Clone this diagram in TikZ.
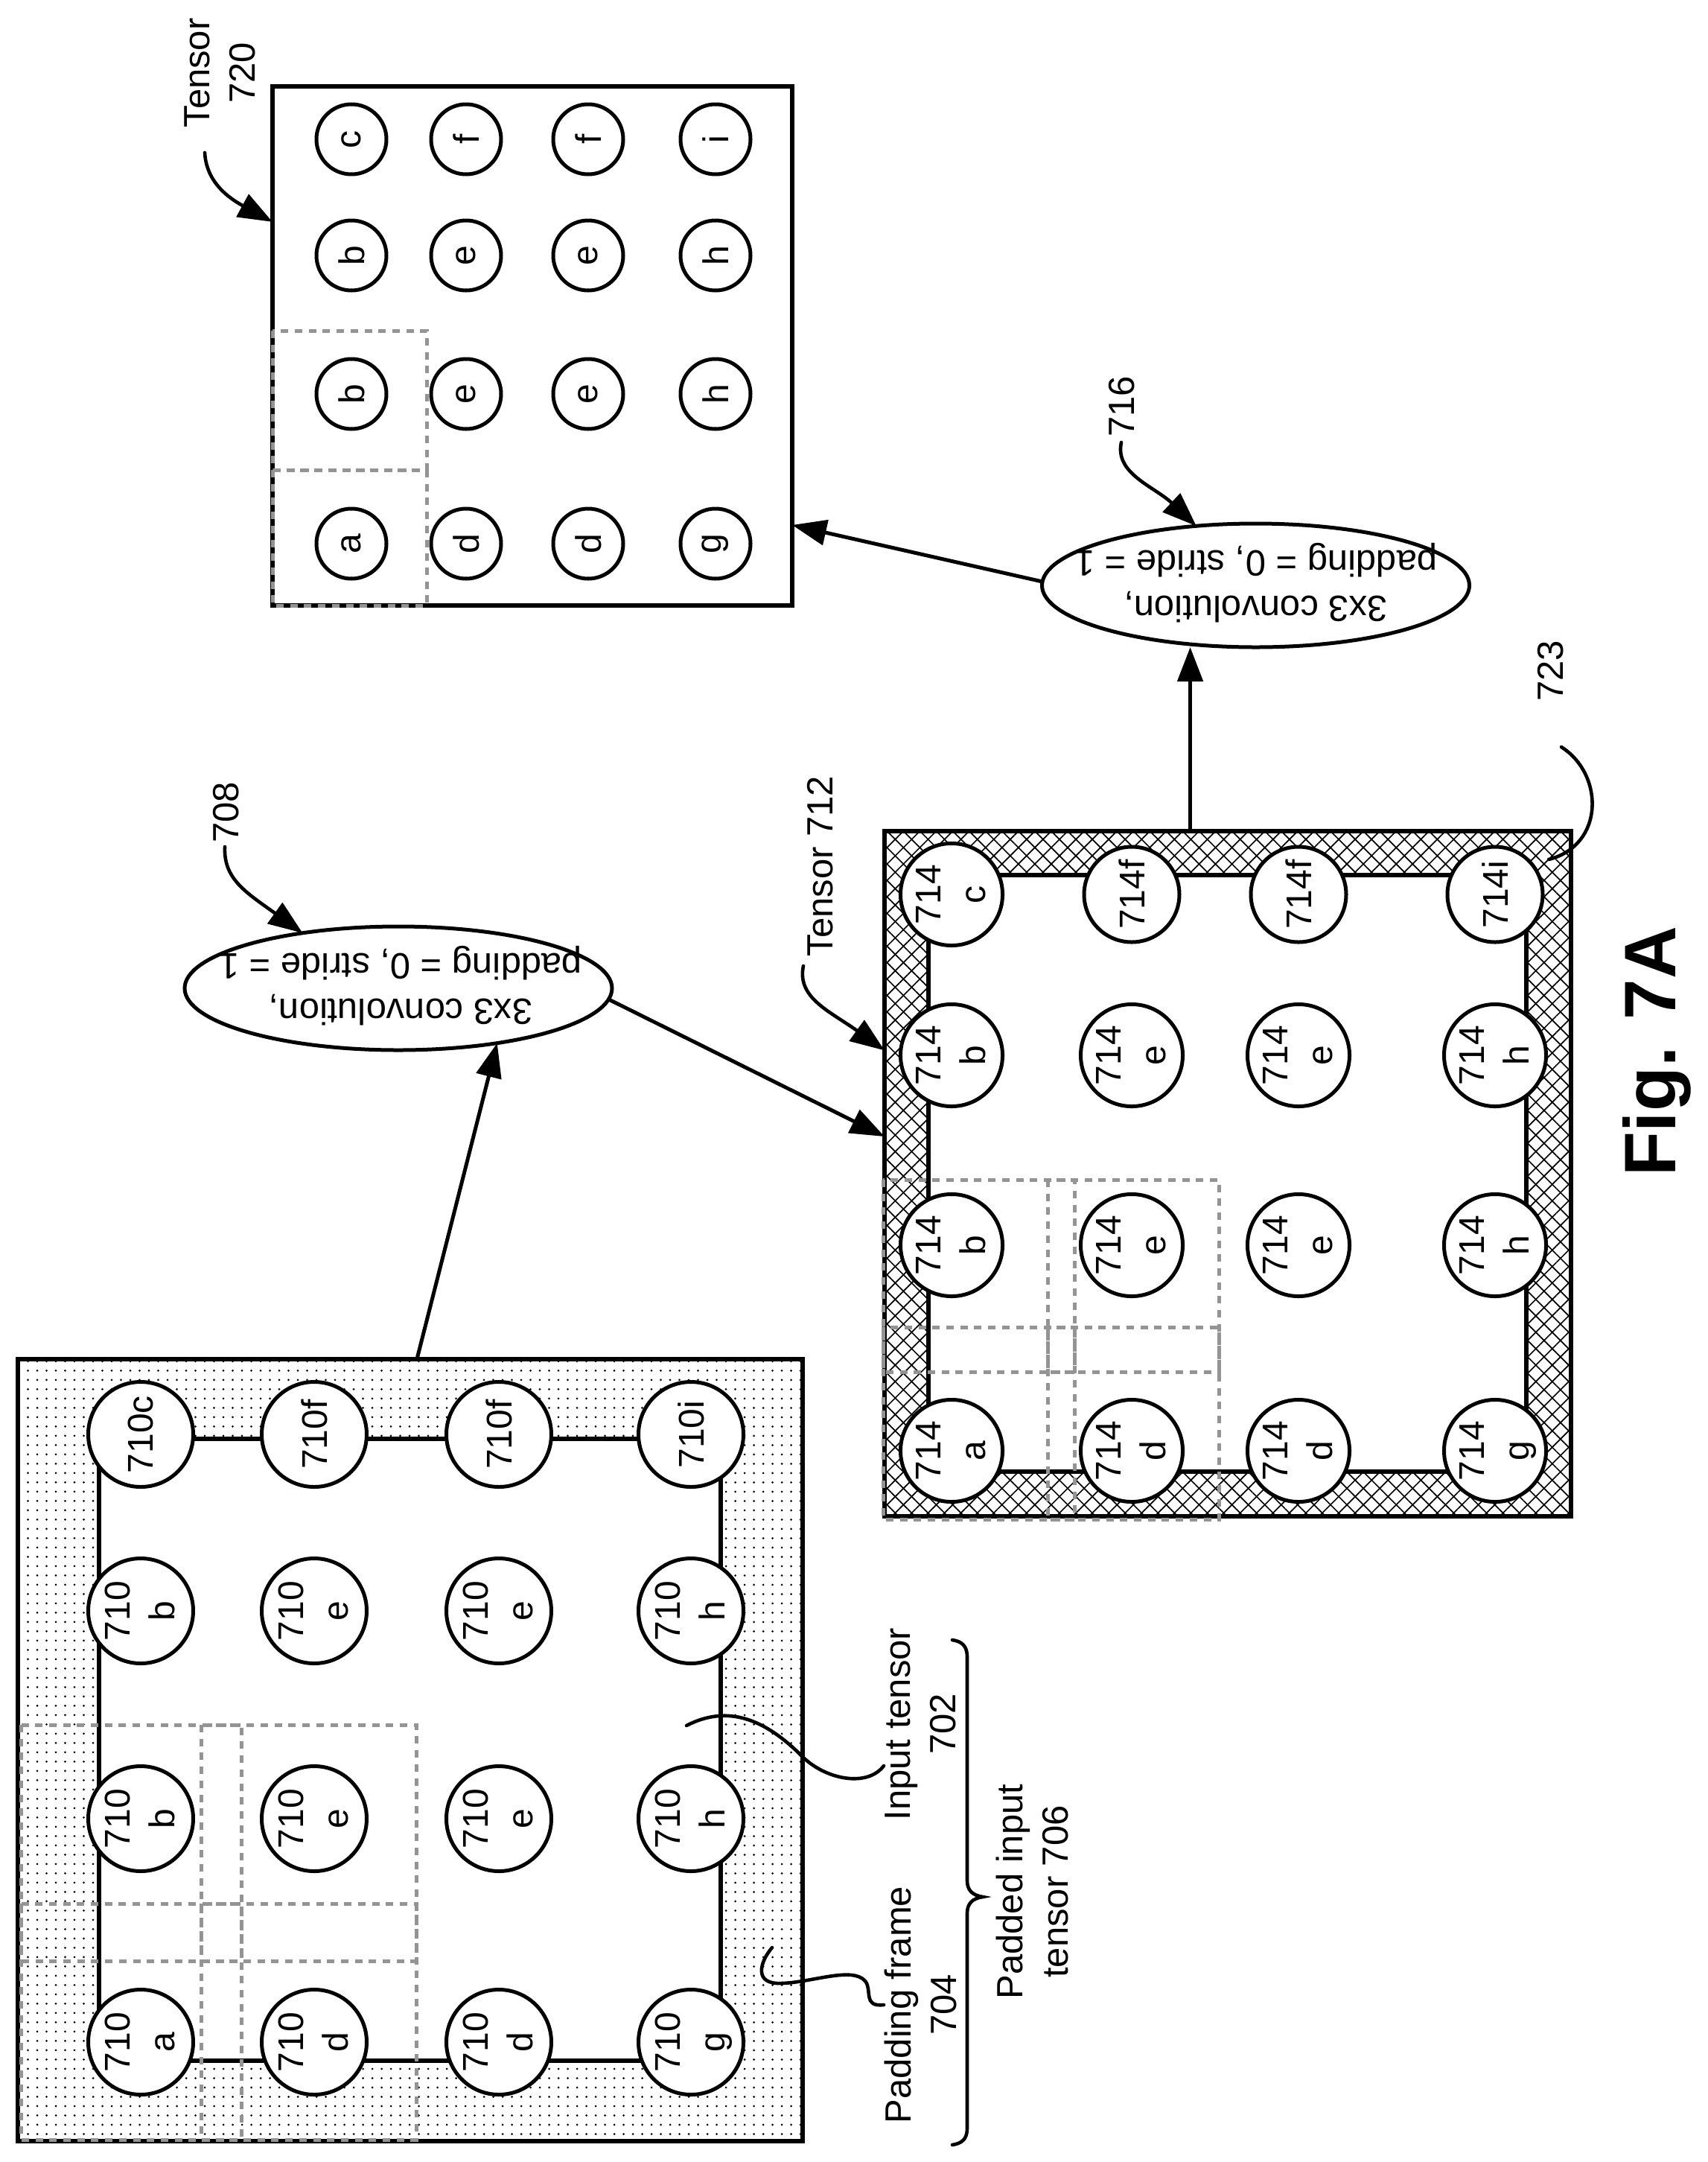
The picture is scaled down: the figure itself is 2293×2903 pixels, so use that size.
\documentclass[tikz,border=0pt]{standalone}
\usepackage{fontspec}
\setmainfont{Liberation Sans}
\usetikzlibrary{arrows.meta,patterns.meta,shapes.geometric,calc}
\newcommand{\lf}{\fontsize{24.5}{30.5}\selectfont}
\newcommand{\cf}{\fontsize{24}{30}\selectfont}
\newcommand{\firstln}{\rule{0pt}{20.7pt}}
\tikzset{
  every node/.style={inner sep=0pt,outer sep=0pt},
  frm/.style={draw=black,line width=2.75pt,rectangle},
  whitefrm/.style={frm,fill=white},
  dotfrm/.style={frm,pattern={Dots[radius=.75pt,distance=6.25pt]},pattern color=black},
  cellp/.style={circle,draw=black,fill=white,line width=2.5pt,minimum size=70.5pt,font=\cf,align=center,rotate=90},
  cellq/.style={circle,draw=black,fill=white,line width=2.5pt,minimum size=64pt,font=\cf,align=center,rotate=90},
  cellr/.style={circle,draw=black,fill=white,line width=2.5pt,minimum size=47pt,font=\cf,rotate=90},
  opell/.style={ellipse,draw=black,fill=white,line width=2.5pt,minimum width=287pt,minimum height=83pt},
  optext/.style={font=\lf,align=center,rotate=180},
  lab/.style={font=\lf,align=center,rotate=90},
  lab1/.style={font=\lf,rotate=90,anchor=base},
  conn/.style={line width=2.5pt,-{Triangle[length=23pt,width=17pt]}},
  lead/.style={line width=2.3pt,line cap=round},
  win/.style={draw=black!42,line width=2.5pt,dash pattern=on 5pt off 4.35pt},
}
\begin{document}
\begin{tikzpicture}[x=0.5pt,y=-0.5pt]
\useasboundingbox (0,0) rectangle (2293,2903);
\fill[white] (0,0) rectangle (2293,2903);

% padded input tensor
\node[dotfrm,minimum width=527pt,minimum height=525pt] (pad) at (551,2350) {};
\node[whitefrm,minimum width=417.5pt,minimum height=417.5pt] (padin) at (550.5,2349.5) {};
\foreach \xa/\ya/\xb/\yb in {28/2316/324/2633,270/2316/559/2633,28/2556/324/2873,270/2556/559/2873}
  \draw[win] (\xa,\ya) rectangle (\xb,\yb);
\foreach \xx/\c/\l in {189/1/710c,422/2/710f,670/3/710f,928/4/710i}
  \node[cellp] (p1\c) at (\xx,1926) {\l};
\foreach \yy/\r/\la/\lb/\lc/\ld in {2163/2/b/e/e/h,2442/3/b/e/e/h,2742/4/a/d/d/g}{
  \foreach \xx/\c/\l in {189/1/\la,422/2/\lb,670/3/\lc,928/4/\ld}
    \node[cellp] (p\r\c) at (\xx,\yy) {\firstln 710\\\l\vphantom{g}};
}

% tensor 712
\node[rectangle,minimum width=461pt,minimum height=460pt,pattern={Lines[angle=45,distance=7.8pt,line width=.85pt]},pattern color=black] (tq) at (1649,1576) {};
\node[rectangle,minimum width=461pt,minimum height=460pt,pattern={Lines[angle=-45,distance=7.8pt,line width=.85pt]},pattern color=black,draw=black,line width=2.75pt] (tqb) at (1649,1576) {};
\node[whitefrm,minimum width=401.5pt,minimum height=400.5pt] (tqin) at (1648.5,1575.5) {};
\foreach \xa/\ya/\xb/\yb in {1186/1584/1443/1842,1407/1584/1637/1842,1186/1782/1443/2040,1407/1782/1637/2040}
  \draw[win] (\xa,\ya) rectangle (\xb,\yb);
\node[cellq] (q11) at (1278,1201) {\firstln 714\\c\vphantom{g}};
\foreach \xx/\c/\l in {1520/2/714f,1744/3/714f,2008/4/714i}
  \node[cellq] (q1\c) at (\xx,1201) {\l};
\foreach \yy/\r/\la/\lb/\lc/\ld in {1417/2/b/e/e/h,1672/3/b/e/e/h,1948/4/a/d/d/g}{
  \foreach \xx/\c/\l in {1278/1/\la,1520/2/\lb,1744/3/\lc,2008/4/\ld}
    \node[cellq] (q\r\c) at (\xx,\yy) {\firstln 714\\\l\vphantom{g}};
}

% tensor 720
\node[whitefrm,minimum width=349pt,minimum height=348.5pt] (tr) at (715,464.5) {};
\foreach \xa/\ya/\xb/\yb in {366/444/573/631,366/631/573/813}
  \draw[win] (\xa,\ya) rectangle (\xb,\yb);
\foreach \yy/\r/\la/\lb/\lc/\ld in {187/1/c/f/f/i,343/2/b/e/e/h,529/3/b/e/e/h,730/4/a/d/d/g}{
  \foreach \xx/\c/\l in {472/1/\la,626/2/\lb,790/3/\lc,961/4/\ld}
    \node[cellr] (r\r\c) at (\xx,\yy) {\l};
}

% operations
\node[opell] (op1) at (535,1327) {};
\node[optext] (op1t) at ($(op1.center)+(3,-3)$) {3x3 convolution,\\padding = 0, stride = 1};
\node[opell] (op2) at (1686.5,786) {};
\node[optext] (op2t) at ($(op2.center)+(0,-3)$) {3x3 convolution,\\padding = 0, stride = 1};

% connectors
\coordinate (padtop) at ($(pad.north west)!.5085!(pad.north east)$);
\coordinate (qleft) at ($(tqb.north west)!.4457!(tqb.south west)$);
\coordinate (qtop) at ($(tqb.north west)!.4453!(tqb.north east)$);
\coordinate (rright) at ($(tr.north east)!.845!(tr.south east)$);
\draw[conn] (padtop) -- (op1.-29);
\draw[conn] (op1.-3) -- (qleft);
\draw[conn] (qtop) -- (qtop |- op2.south);
\draw[conn] (op2.179) -- (rright);

% labels
\node[lab] (l720) at (295,98) {Tensor\\720};
\node[lab1] (l708) at (320,1091) {708};
\node[lab1] (l712) at (1118,1163) {Tensor 712};
\node[lab1] (l716) at (1523,546) {716};
\node[lab1] (l723) at (2099,901) {723};
\node[lab] (l702) at (1236,2315) {Input tensor\\702};
\node[lab] (l704) at (1236,2692) {Padding frame\\704};
\node[lab] (l706) at (1386,2540) {Padded input\\tensor 706};
\node[rotate=90,anchor=base,font=\fontsize{49}{55}\selectfont\bfseries] (fig) at (2250,1412) {Fig. 7A};

% leaders
\coordinate (a720) at (275,205);
\draw[lead,-{Triangle[length=23pt,width=17pt]}] (a720) .. controls (277,240) and (300,262) .. ($(tr.north west)!.261!(tr.south west)$);
\coordinate (a708) at (302,1137);
\draw[lead,-{Triangle[length=23pt,width=17pt]}] (a708) .. controls (300,1180) and (330,1198) .. (op1.150);
\coordinate (a712) at (1079,1297);
\draw[lead,-{Triangle[length=23pt,width=17pt]}] (a712) .. controls (1070,1340) and (1115,1358) .. ($(tqb.north west)!.32!(tqb.south west)$);
\coordinate (a716) at (1506,594);
\draw[lead,-{Triangle[length=23pt,width=17pt]}] (a716) .. controls (1497,636) and (1550,653) .. (op2.135);
\coordinate (a723s) at (2097,1003);
\coordinate (a723e) at (2080,1154);
\draw[lead] (a723s) .. controls (2155,1040) and (2155,1135) .. (a723e);
\coordinate (a702s) at (922,2317);
\coordinate (a702m) at (1078,2359);
\coordinate (a702e) at (1187,2371);
\draw[lead] (a702s) .. controls (965,2295) and (1015,2295) .. (a702m) .. controls (1110,2390) and (1165,2400) .. (a702e);
\coordinate (a704s) at (1037,2615);
\coordinate (a704m) at (1050,2663);
\coordinate (a704n) at (1162,2660);
\coordinate (a704e) at (1187,2692);
\draw[lead] (a704s) .. controls (1020,2635) and (1012,2665) .. (a704m) .. controls (1090,2662) and (1145,2640) .. (a704n) .. controls (1172,2672) and (1158,2695) .. (a704e);
\coordinate (b1) at (1279,2202);
\coordinate (b2) at (1320,2547);
\coordinate (b3) at (1279,2880);
\draw[lead] (b1) .. controls (1292,2204) and (1299,2210) .. (1299,2225) -- (1299,2525) .. controls (1299,2538) and (1306,2545) .. (b2) .. controls (1306,2549) and (1299,2556) .. (1299,2569) -- (1299,2858) .. controls (1299,2872) and (1292,2878) .. (b3);
\end{tikzpicture}
\end{document}
